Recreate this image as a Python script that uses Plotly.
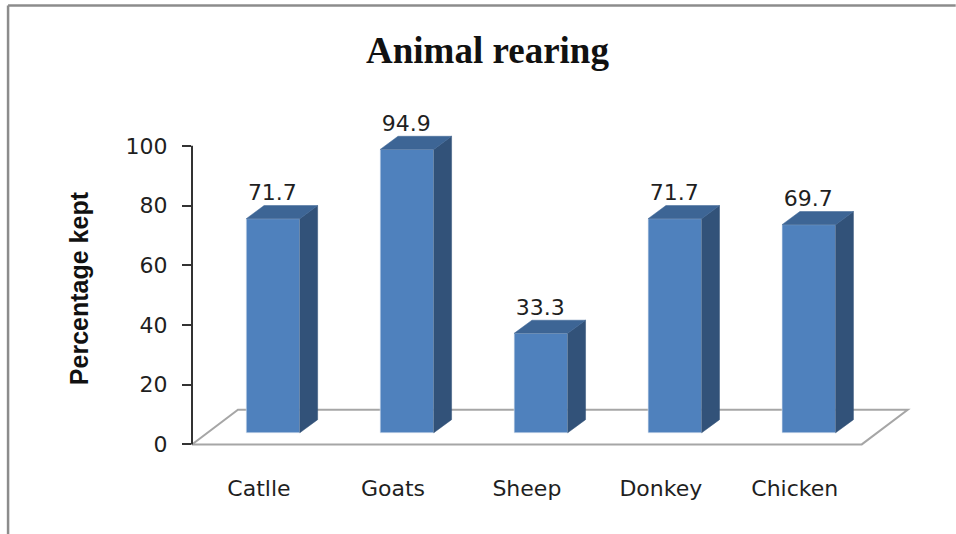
import plotly.graph_objects as go

# Chart content
categories = ["Catlle", "Goats", "Sheep", "Donkey", "Chicken"]
percent_kept = [71.7, 94.9, 33.3, 71.7, 69.7]
y_ticks = [0, 20, 40, 60, 80, 100]

# Pseudo-3D projection, in axis units
BAR_OFFSET = 0.605     # front face centre, relative to the category start
BAR_WIDTH = 0.4
BAR_BASE = 3.9         # front face floats this far above the zero line
DEPTH_X = 0.133
DEPTH_Y = 4.4
FLOOR_DX = 0.343
FLOOR_DY = 11.6

FRONT = "#4f81bd"
SIDE = "#325279"
TOP = "#3d6595"
EDGE = "#dbe5f1"
TEXT = "#1f1f1f"

n = len(categories)
fig = go.Figure()

xs = [i + BAR_OFFSET for i in range(n)]

# Front faces as ordinary bars
fig.add_trace(go.Bar(
    x=xs, y=percent_kept, base=BAR_BASE, width=BAR_WIDTH,
    marker=dict(color=FRONT, line=dict(color=EDGE, width=0.6)),
    hoverinfo="skip",
))

# Side and top faces, projected back from each bar
for x, v in zip(xs, percent_kept):
    left, right = x - BAR_WIDTH / 2, x + BAR_WIDTH / 2
    top = BAR_BASE + v
    fig.add_trace(go.Scatter(
        x=[right, right + DEPTH_X, right + DEPTH_X, right, right],
        y=[BAR_BASE, BAR_BASE + DEPTH_Y, top + DEPTH_Y, top, BAR_BASE],
        mode="lines", fill="toself", fillcolor=SIDE,
        line=dict(color=SIDE, width=0.5), hoverinfo="skip",
    ))
    fig.add_trace(go.Scatter(
        x=[left, left + DEPTH_X, right + DEPTH_X, right, left],
        y=[top, top + DEPTH_Y, top + DEPTH_Y, top, top],
        mode="lines", fill="toself", fillcolor=TOP,
        line=dict(color=TOP, width=0.5), hoverinfo="skip",
    ))

# Value labels above each bar
fig.add_trace(go.Scatter(
    x=[x - 0.005 for x in xs],
    y=[BAR_BASE + v + DEPTH_Y for v in percent_kept],
    text=[f"{v:.1f}" for v in percent_kept],
    mode="text", textposition="top center",
    textfont=dict(family="DejaVu Sans", size=22, color=TEXT),
    hoverinfo="skip",
))

# The plot area runs past the axis limits so the projected parts stay visible
X_MAX = n + 0.42
Y_MIN, Y_MAX = -1.2, 112
PX_PER_X, PX_PER_Y = 134, 2.98
W, H = 956, 534
ML, ZERO_Y = 192, 444
pw = X_MAX * PX_PER_X
ph = (Y_MAX - Y_MIN) * PX_PER_Y
MR = W - ML - pw
MT = ZERO_Y - Y_MAX * PX_PER_Y
MB = H - MT - ph

# Floor parallelogram behind the bars
floor_x = [0, FLOOR_DX, n + FLOOR_DX, n, 0]
floor_y = [0, FLOOR_DY, FLOOR_DY, 0, 0]
floor_path = "M " + " L ".join(f"{a},{b}" for a, b in zip(floor_x, floor_y))
shapes = [dict(type="path", path=floor_path, xref="x", yref="y", layer="below",
               line=dict(color="#a6a6a6", width=2))]

# Value axis line stops at the top tick
shapes.append(dict(type="line", xref="paper", yref="y", x0=0, x1=0, y0=0, y1=100,
                   line=dict(color="#333333", width=2)))

# Outer frame: top and left edges only
px = lambda p: (p - ML) / pw
py = lambda p: 1 - (p - MT) / ph
for x0, y0, x1, y1 in [(8, 6, 956, 6), (8, 6, 8, 534)]:
    shapes.append(dict(type="line", xref="paper", yref="paper",
                       x0=px(x0), y0=py(y0), x1=px(x1), y1=py(y1),
                       line=dict(color="#8c8c8c", width=2.5)))

fig.update_layout(
    width=W, height=H, autosize=False,
    margin=dict(l=ML, r=MR, t=MT, b=MB, pad=0),
    paper_bgcolor="white", plot_bgcolor="white",
    showlegend=False, shapes=shapes,
    title=dict(text="<b>Animal rearing</b>", x=487.5 / W, xanchor="center",
               y=1 - 50 / H, yanchor="middle",
               font=dict(family="Liberation Serif", size=37, color="#111111")),
    xaxis=dict(range=[0, X_MAX], tickmode="array",
               tickvals=[i + 0.5 for i in range(n)], ticktext=categories,
               showline=False, showgrid=False, zeroline=False, ticks="",
               tickfont=dict(family="DejaVu Sans", size=22, color=TEXT),
               ticklabelstandoff=25),
    yaxis=dict(range=[Y_MIN, Y_MAX], tickmode="array", tickvals=y_ticks,
               showline=False, showgrid=False, zeroline=False,
               ticks="outside", ticklen=9, tickwidth=2, tickcolor="#333333",
               tickfont=dict(family="DejaVu Sans", size=22, color=TEXT),
               ticklabelstandoff=10),
    annotations=[dict(text="<b>Percentage kept</b>", textangle=-90, showarrow=False,
                      xref="paper", yref="paper", x=px(79), y=py(288),
                      xanchor="center", yanchor="middle",
                      font=dict(family="Liberation Sans", size=25, color="#111111"))],
)

fig.write_html("out.html")
